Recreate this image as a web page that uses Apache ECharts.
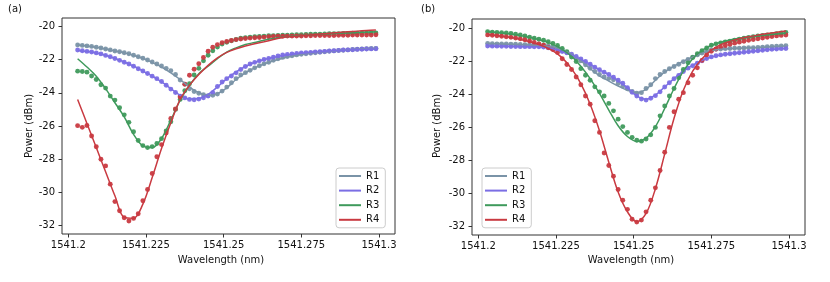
<!DOCTYPE html>
<html>
<head>
<meta charset="utf-8">
<script src="https://cdn.jsdelivr.net/npm/echarts@6/dist/echarts.min.js"></script>
<style>html,body{margin:0;padding:0;background:#fff}#c{width:830px;height:282px}</style>
</head>
<body>
<div id="c"></div>
<script>
// Wavelength samples (nm) for measured points and for fitted curves
const wl = [1541.2030,1541.2045,1541.2060,1541.2075,1541.2090,1541.2105,1541.2120,1541.2135,1541.2150,1541.2165,
1541.2180,1541.2195,1541.2210,1541.2225,1541.2240,1541.2255,1541.2270,1541.2285,1541.2300,1541.2315,
1541.2330,1541.2345,1541.2360,1541.2375,1541.2390,1541.2405,1541.2420,1541.2435,1541.2450,1541.2465,
1541.2480,1541.2495,1541.2510,1541.2525,1541.2540,1541.2555,1541.2570,1541.2585,1541.2600,1541.2615,
1541.2630,1541.2645,1541.2660,1541.2675,1541.2690,1541.2705,1541.2720,1541.2735,1541.2750,1541.2765,
1541.2780,1541.2795,1541.2810,1541.2825,1541.2840,1541.2855,1541.2870,1541.2885,1541.2900,1541.2915,
1541.2930,1541.2945,1541.2960,1541.2975,1541.2990];
const wlFit = [1541.203,1541.206,1541.209,1541.212,1541.215,1541.218,1541.221,1541.224,1541.227,1541.230,
1541.233,1541.236,1541.239,1541.242,1541.245,1541.248,1541.251,1541.254,1541.257,1541.260,
1541.263,1541.266,1541.269,1541.272,1541.275,1541.278,1541.281,1541.284,1541.287,1541.290,
1541.293,1541.296,1541.299];

const seriesNames = ['R1','R2','R3','R4'];
const xTickValues = [1541.2, 1541.225, 1541.25, 1541.275, 1541.3];
const xTickLabels = ['1541.2','1541.225','1541.25','1541.275','1541.3'];
const yTickValues = [-32,-30,-28,-26,-24,-22,-20];
const yTickLabels = ['-32','-30','-28','-26','-24','-22','-20'];

// Panel (a) measured points (dBm)
const a_R1 = [-21.12,-21.15,-21.18,-21.21,-21.26,-21.31,-21.37,-21.42,-21.49,-21.53,
-21.59,-21.65,-21.74,-21.83,-21.92,-22.03,-22.15,-22.27,-22.39,-22.53,
-22.67,-22.9,-23.23,-23.49,-23.76,-23.92,-24.03,-24.12,-24.17,-24.15,
-24.08,-23.9,-23.66,-23.4,-23.15,-22.93,-22.79,-22.65,-22.5,-22.37,
-22.26,-22.16,-22.05,-21.95,-21.87,-21.82,-21.77,-21.72,-21.68,-21.65,
-21.62,-21.59,-21.56,-21.53,-21.5,-21.48,-21.46,-21.44,-21.42,-21.4,
-21.38,-21.36,-21.35,-21.34,-21.33];
const a_R2 = [-21.43,-21.47,-21.51,-21.55,-21.6,-21.66,-21.75,-21.83,-21.94,-22.05,
-22.16,-22.27,-22.4,-22.55,-22.69,-22.84,-23.0,-23.15,-23.32,-23.55,
-23.78,-23.98,-24.2,-24.31,-24.4,-24.42,-24.38,-24.3,-24.2,-24.0,
-23.62,-23.35,-23.15,-22.99,-22.8,-22.6,-22.42,-22.27,-22.17,-22.08,
-22.0,-21.93,-21.86,-21.78,-21.73,-21.69,-21.66,-21.63,-21.61,-21.59,
-21.57,-21.55,-21.53,-21.51,-21.49,-21.47,-21.45,-21.43,-21.42,-21.41,
-21.39,-21.38,-21.37,-21.36,-21.35];
const a_R3 = [-22.7,-22.72,-22.76,-22.99,-23.2,-23.52,-23.72,-24.2,-24.44,-24.9,
-25.33,-25.78,-26.35,-26.87,-27.18,-27.3,-27.24,-27.05,-26.76,-26.3,
-25.75,-25.0,-24.4,-23.88,-23.46,-22.93,-22.53,-22.08,-21.74,-21.47,
-21.25,-21.07,-20.96,-20.87,-20.79,-20.72,-20.68,-20.65,-20.63,-20.61,
-20.59,-20.57,-20.56,-20.55,-20.54,-20.53,-20.52,-20.51,-20.5,-20.49,
-20.48,-20.47,-20.47,-20.46,-20.45,-20.45,-20.44,-20.43,-20.43,-20.42,
-20.42,-20.41,-20.41,-20.4,-20.4];
const a_R4 = [-25.98,-26.08,-25.97,-26.6,-27.25,-28.0,-28.4,-29.5,-30.55,-31.1,
-31.52,-31.72,-31.56,-31.28,-30.5,-29.82,-28.86,-27.85,-27.12,-26.42,
-25.55,-24.98,-24.25,-23.48,-22.95,-22.58,-22.25,-21.88,-21.5,-21.26,
-21.1,-20.99,-20.91,-20.85,-20.8,-20.76,-20.73,-20.71,-20.69,-20.67,
-20.65,-20.63,-20.61,-20.6,-20.6,-20.59,-20.59,-20.58,-20.58,-20.57,
-20.57,-20.56,-20.56,-20.55,-20.55,-20.55,-20.54,-20.54,-20.54,-20.53,
-20.53,-20.53,-20.52,-20.52,-20.51];

// Panel (a) fitted curves (dBm)
const aFit_R1 = [-21.12,-21.18,-21.26,-21.37,-21.49,-21.6,-21.75,-21.93,-22.17,-22.45,
-22.8,-23.2,-23.65,-24.0,-24.15,-24.05,-23.7,-23.2,-22.8,-22.5,
-22.27,-22.08,-21.92,-21.8,-21.7,-21.62,-21.56,-21.51,-21.46,-21.42,
-21.38,-21.35,-21.32];
const aFit_R2 = [-21.45,-21.52,-21.61,-21.74,-21.93,-22.15,-22.4,-22.7,-23.0,-23.35,
-23.75,-24.15,-24.38,-24.35,-24.1,-23.65,-23.15,-22.75,-22.42,-22.18,
-22.0,-21.87,-21.76,-21.68,-21.62,-21.57,-21.53,-21.49,-21.46,-21.43,
-21.4,-21.38,-21.36];
const aFit_R3 = [-21.95,-22.45,-23.0,-23.75,-24.6,-25.45,-26.5,-27.2,-27.3,-26.75,
-25.65,-24.45,-23.55,-22.85,-22.4,-21.95,-21.55,-21.3,-21.1,-20.97,
-20.84,-20.74,-20.66,-20.6,-20.55,-20.51,-20.48,-20.45,-20.42,-20.4,
-20.37,-20.35,-20.33];
const aFit_R4 = [-24.4,-25.85,-27.3,-28.75,-30.2,-31.5,-31.55,-30.7,-29.1,-27.35,
-25.8,-24.4,-23.55,-22.9,-22.35,-21.9,-21.57,-21.35,-21.18,-21.05,
-20.93,-20.8,-20.67,-20.62,-20.57,-20.52,-20.47,-20.42,-20.37,-20.33,
-20.29,-20.25,-20.22];

// Panel (b) measured points (dBm)
const b_R1 = [-20.93,-20.94,-20.95,-20.96,-20.96,-20.97,-20.98,-20.99,-21.0,-21.01,
-21.02,-21.03,-21.04,-21.08,-21.14,-21.2,-21.32,-21.47,-21.64,-21.8,
-21.98,-22.22,-22.43,-22.62,-22.8,-22.95,-23.05,-23.12,-23.35,-23.52,
-23.67,-23.82,-23.93,-23.9,-23.65,-23.42,-23.05,-22.8,-22.62,-22.46,
-22.32,-22.18,-22.03,-21.9,-21.76,-21.62,-21.5,-21.4,-21.32,-21.28,
-21.26,-21.24,-21.23,-21.22,-21.21,-21.2,-21.19,-21.18,-21.17,-21.15,
-21.13,-21.11,-21.1,-21.08,-21.07];
const b_R2 = [-21.08,-21.09,-21.09,-21.1,-21.1,-21.11,-21.11,-21.12,-21.12,-21.12,
-21.13,-21.13,-21.14,-21.19,-21.26,-21.33,-21.41,-21.49,-21.58,-21.72,
-21.86,-22.02,-22.18,-22.36,-22.52,-22.66,-22.8,-22.97,-23.15,-23.33,
-23.6,-23.88,-24.1,-24.28,-24.35,-24.24,-24.08,-23.85,-23.56,-23.3,
-23.06,-22.86,-22.62,-22.42,-22.27,-22.12,-21.97,-21.84,-21.74,-21.67,
-21.62,-21.58,-21.55,-21.52,-21.49,-21.46,-21.43,-21.4,-21.37,-21.34,
-21.31,-21.28,-21.26,-21.24,-21.23];
const b_R3 = [-20.22,-20.24,-20.26,-20.28,-20.3,-20.33,-20.37,-20.42,-20.48,-20.55,
-20.61,-20.67,-20.73,-20.82,-20.92,-21.05,-21.23,-21.42,-21.75,-22.02,
-22.45,-22.85,-23.15,-23.55,-23.85,-24.1,-24.55,-25.0,-25.5,-25.95,
-26.3,-26.6,-26.78,-26.83,-26.7,-26.45,-26.0,-25.3,-24.7,-24.1,
-23.65,-23.0,-22.5,-22.1,-21.78,-21.55,-21.37,-21.2,-21.04,-20.95,
-20.89,-20.84,-20.79,-20.73,-20.67,-20.61,-20.56,-20.52,-20.48,-20.45,
-20.42,-20.38,-20.34,-20.3,-20.27];
const b_R4 = [-20.41,-20.43,-20.46,-20.49,-20.52,-20.56,-20.6,-20.65,-20.7,-20.78,
-20.87,-20.96,-21.04,-21.17,-21.3,-21.48,-21.85,-22.2,-22.5,-22.95,
-23.42,-24.1,-24.6,-25.6,-26.3,-27.55,-28.3,-28.95,-29.75,-30.4,
-30.95,-31.55,-31.72,-31.6,-31.1,-30.4,-29.65,-28.6,-27.5,-26.0,
-25.05,-24.3,-23.9,-23.3,-22.85,-22.4,-21.95,-21.62,-21.4,-21.26,
-21.15,-21.05,-20.98,-20.91,-20.85,-20.79,-20.74,-20.69,-20.64,-20.6,
-20.55,-20.51,-20.47,-20.44,-20.42];

// Panel (b) fitted curves (dBm)
const bFit_R1 = [-20.93,-20.95,-20.97,-20.99,-21.01,-21.03,-21.07,-21.14,-21.3,-21.58,
-21.98,-22.45,-22.88,-23.2,-23.5,-23.75,-23.9,-23.7,-23.15,-22.65,
-22.3,-22.0,-21.75,-21.52,-21.36,-21.28,-21.24,-21.21,-21.19,-21.17,
-21.14,-21.11,-21.08];
const bFit_R2 = [-21.08,-21.09,-21.1,-21.11,-21.12,-21.13,-21.15,-21.25,-21.42,-21.62,
-21.88,-22.2,-22.52,-22.82,-23.17,-23.6,-24.1,-24.3,-24.05,-23.55,
-23.05,-22.6,-22.25,-21.95,-21.75,-21.63,-21.55,-21.49,-21.43,-21.37,
-21.31,-21.27,-21.23];
const bFit_R3 = [-20.22,-20.27,-20.33,-20.4,-20.5,-20.62,-20.78,-20.98,-21.28,-21.7,
-22.3,-23.05,-23.95,-24.95,-25.9,-26.55,-26.85,-26.65,-25.95,-24.85,
-23.65,-22.6,-21.85,-21.35,-21.05,-20.85,-20.72,-20.62,-20.54,-20.47,
-20.41,-20.36,-20.32];
const bFit_R4 = [-20.38,-20.45,-20.52,-20.62,-20.75,-20.9,-21.1,-21.38,-21.8,-22.45,
-23.35,-24.6,-26.2,-28.1,-29.9,-31.1,-31.7,-31.2,-29.7,-27.6,
-25.45,-23.75,-22.6,-21.85,-21.35,-21.0,-20.8,-20.64,-20.52,-20.42,
-20.33,-20.25,-20.17];

const colors = ['#7a93a7','#7b6ee4','#3f9a5c','#c93a41'];
const FONT = 'DejaVu Sans';

const panels = [
  {dots:[a_R1,a_R2,a_R3,a_R4], fits:[aFit_R1,aFit_R2,aFit_R3,aFit_R4]},
  {dots:[b_R1,b_R2,b_R3,b_R4], fits:[bFit_R1,bFit_R2,bFit_R3,bFit_R4]}
];

function pairs(xs, ys){ return ys.map((v,i)=>[xs[i], v]); }
function tickFmt(vals, labels){
  return function(v){
    let best=0, bd=Infinity;
    vals.forEach((t,i)=>{const d=Math.abs(t-v); if(d<bd){bd=d;best=i;}});
    return labels[best];
  };
}

const grids = [
  {left:62, top:18, width:333, height:216, show:true, borderColor:'#333', borderWidth:1, backgroundColor:'transparent'},
  {left:472, top:19, width:333, height:216, show:true, borderColor:'#333', borderWidth:1, backgroundColor:'transparent'}
];
const yRanges = [[-32.5,-19.5],[-32.5,-19.45]];

const xAxes = grids.map((g,i)=>({
  type:'value', gridIndex:i, min:1541.19797, max:1541.30515,
  axisLine:{show:false}, splitLine:{show:false},
  axisTick:{show:true, inside:false, length:3.5, lineStyle:{color:'#333', width:1}, customValues:xTickValues},
  axisLabel:{customValues:xTickValues, formatter:tickFmt(xTickValues,xTickLabels), margin:6,
    fontFamily:FONT, fontSize:10, color:'#111', showMinLabel:true, showMaxLabel:true}
}));
const yAxes = grids.map((g,i)=>({
  type:'value', gridIndex:i, min:yRanges[i][0], max:yRanges[i][1],
  axisLine:{show:false}, splitLine:{show:false},
  axisTick:{show:true, inside:false, length:3.5, lineStyle:{color:'#333', width:1}, customValues:yTickValues},
  axisLabel:{customValues:yTickValues, formatter:tickFmt(yTickValues,yTickLabels), margin:7,
    fontFamily:FONT, fontSize:10, color:'#111'}
}));

const series = [];
panels.forEach((p, pi)=>{
  seriesNames.forEach((nm, k)=>{
    series.push({
      type:'scatter', name:nm+' data', xAxisIndex:pi, yAxisIndex:pi,
      data:pairs(wl, p.dots[k]), symbol:'circle', symbolSize:4.9,
      itemStyle:{color:colors[k], opacity:0.95}, silent:true
    });
    series.push({
      type:'line', name:nm, xAxisIndex:pi, yAxisIndex:pi,
      data:pairs(wlFit, p.fits[k]), smooth:0.35, showSymbol:false, symbol:'none',
      lineStyle:{color:colors[k], width:1.5}, itemStyle:{color:colors[k]}, silent:true
    });
  });
});

const legendCommon = {
  orient:'vertical', data:seriesNames, icon:'rect', itemWidth:22, itemHeight:2,
  itemGap:2.6, textStyle:{fontFamily:FONT, fontSize:10, color:'#111', lineHeight:12},
  backgroundColor:'#fff', borderColor:'#cccccc', borderWidth:1, borderRadius:3,
  padding:[2,6,2,3], selectedMode:false
};

const option = {
  animation:false,
  backgroundColor:'#fff',
  grid:grids, xAxis:xAxes, yAxis:yAxes, series:series,
  legend:[
    Object.assign({left:336, top:168}, legendCommon),
    Object.assign({left:482, top:168}, legendCommon)
  ],
  graphic:[
    {type:'text', x:8, y:4, style:{text:'(a)', font:'10px "DejaVu Sans"', fill:'#111'}},
    {type:'text', x:421, y:4, style:{text:'(b)', font:'10px "DejaVu Sans"', fill:'#111'}},
    {type:'text', x:29, y:126, rotation:Math.PI/2, style:{text:'Power (dBm)', font:'10px "DejaVu Sans"', fill:'#111', textAlign:'center', textVerticalAlign:'middle'}},
    {type:'text', x:437, y:126, rotation:Math.PI/2, style:{text:'Power (dBm)', font:'10px "DejaVu Sans"', fill:'#111', textAlign:'center', textVerticalAlign:'middle'}},
    {type:'text', x:221, y:260, style:{text:'Wavelength (nm)', font:'10px "DejaVu Sans"', fill:'#111', textAlign:'center', textVerticalAlign:'middle'}},
    {type:'text', x:631, y:260, style:{text:'Wavelength (nm)', font:'10px "DejaVu Sans"', fill:'#111', textAlign:'center', textVerticalAlign:'middle'}}
  ]
};

const chart = echarts.init(document.getElementById('c'), null, {renderer:'canvas'});
chart.setOption(option);
</script>
</body>
</html>
